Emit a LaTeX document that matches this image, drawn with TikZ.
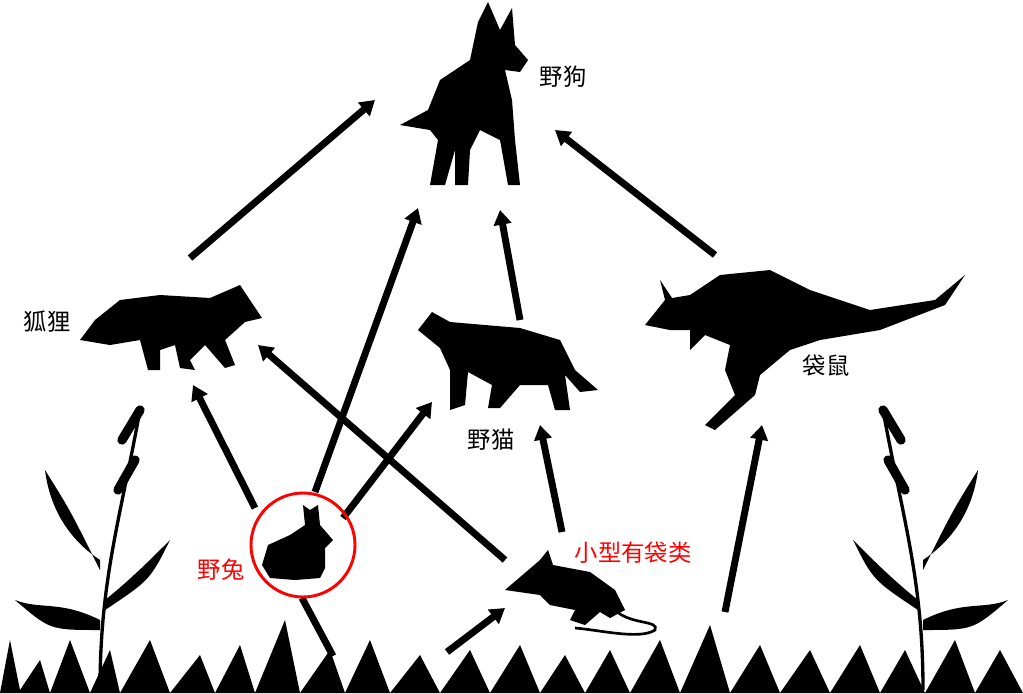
\documentclass[tikz,border=0pt]{standalone}
\usepackage{fontspec}
\newfontfamily\cjk{Noto Sans CJK SC}
\usetikzlibrary{arrows.meta}
\begin{document}
\begin{tikzpicture}[x=0.75pt,y=-0.75pt,
  feed/.style={line width=5.2pt,-{Triangle[length=11pt,width=13pt]}},
  sil/.style={fill=black},
  lab/.style={font=\cjk\fontsize{17.5}{17.5}\selectfont,text=black},
  rlab/.style={font=\cjk\fontsize{17.5}{17.5}\selectfont,text=red}]
\useasboundingbox (0,0) rectangle (1023,693);
% dog
\fill[sil] (478,22) -- (488,2) -- (500,30) -- (512,8) -- (515,45) -- (528,60) -- (520,72) -- (505,70) -- (512,100) -- (515,140) -- (520,185) -- (508,185) -- (500,140) -- (480,130) -- (470,150) -- (468,185) -- (455,185) -- (455,150) -- (445,185) -- (430,185) -- (438,140) -- (430,130) -- (400,125) -- (428,110) -- (440,80) -- (470,60) -- cycle;
% fox
\fill[sil] (80,340) -- (95,320) -- (120,300) -- (160,295) -- (210,298) -- (240,285) -- (262,318) -- (245,322) -- (225,340) -- (235,365) -- (225,368) -- (205,345) -- (190,360) -- (195,370) -- (180,368) -- (175,345) -- (160,350) -- (160,370) -- (148,370) -- (140,340) -- (110,345) -- cycle;
% cat
\fill[sil] (418,330) -- (432,312) -- (450,322) -- (520,328) -- (560,340) -- (575,370) -- (598,390) -- (580,392) -- (565,375) -- (570,410) -- (555,410) -- (548,385) -- (520,385) -- (500,408) -- (488,408) -- (492,385) -- (468,372) -- (465,405) -- (450,410) -- (450,370) -- (440,348) -- cycle;
% kangaroo
\fill[sil] (645,325) -- (665,300) -- (660,280) -- (672,298) -- (690,295) -- (720,275) -- (770,270) -- (810,290) -- (870,310) -- (935,300) -- (965,275) -- (945,305) -- (880,330) -- (820,340) -- (790,350) -- (760,375) -- (755,395) -- (715,430) -- (705,425) -- (735,395) -- (725,370) -- (730,345) -- (705,335) -- (690,350) -- (690,330) -- (670,330) -- cycle;
% rabbit
\fill[sil] (303,505) -- (310,510) -- (318,505) -- (320,525) -- (333,540) -- (325,548) -- (325,568) -- (320,578) -- (295,580) -- (270,578) -- (262,565) -- (268,545) -- (290,535) -- (305,525) -- cycle;
% marsupial
\fill[sil] (505,590) -- (540,560) -- (548,550) -- (553,565) -- (590,572) -- (615,590) -- (625,610) -- (610,618) -- (600,612) -- (585,625) -- (570,620) -- (575,610) -- (550,605) -- (540,595) -- cycle;
\draw[line width=2pt] (615,610) .. controls (630,625) and (660,620) .. (655,630) .. controls (640,640) and (600,630) .. (575,628);
% grass
\fill[sil] (0,693) -- (10,640) -- (20,690) -- (40,660) -- (50,693) -- (70,640) -- (90,693) -- (110,650) -- (120,693) -- (150,640) -- (170,693) -- (200,655) -- (215,693) -- (240,645) -- (255,693) -- (285,620) -- (300,693) -- (330,650) -- (345,693) -- (370,640) -- (390,693) -- (420,655) -- (440,693) -- (470,650) -- (490,693) -- (520,645) -- (540,693) -- (565,655) -- (585,693) -- (610,650) -- (630,693) -- (660,640) -- (680,693) -- (710,625) -- (730,693) -- (760,645) -- (780,693) -- (810,650) -- (830,693) -- (860,645) -- (880,693) -- (905,650) -- (925,693) -- (955,640) -- (975,693) -- (1000,650) -- (1023,693) -- cycle;
% reeds
\foreach \s/\x in {1/100,-1/923}{
  \draw[line width=2.5pt] (\x,690) .. controls (\x,580) and (\x+\s*20,520) .. (\x+\s*40,410);
  \draw[line width=7pt,line cap=round] (\x+\s*22,440) -- (\x+\s*40,410);
  \draw[line width=7pt,line cap=round] (\x+\s*18,490) -- (\x+\s*35,460);
  \fill[sil] (\x,620) .. controls (\x-\s*40,600) and (\x-\s*60,610) .. (\x-\s*85,600) .. controls (\x-\s*50,630) .. (\x,630) -- cycle;
  \fill[sil] (\x,560) .. controls (\x-\s*30,540) and (\x-\s*50,510) .. (\x-\s*55,470) .. controls (\x-\s*30,510) .. (\x,570) -- cycle;
  \fill[sil] (\x+\s*5,600) .. controls (\x+\s*30,580) and (\x+\s*50,560) .. (\x+\s*70,540) .. controls (\x+\s*50,580) .. (\x+\s*5,610) -- cycle;
}
% named anchor points
\coordinate (fox1) at (190,258); \coordinate (dog1) at (375,100);
\coordinate (rab1) at (315,492); \coordinate (dog2) at (418,208);
\coordinate (cat1) at (520,320); \coordinate (dog3) at (500,210);
\coordinate (kan1) at (715,255); \coordinate (dog4) at (555,130);
\coordinate (rab2) at (255,508); \coordinate (fox2) at (193,385);
\coordinate (mar1) at (505,560); \coordinate (fox3) at (258,345);
\coordinate (rab3) at (343,518); \coordinate (cat2) at (432,402);
\coordinate (mar2) at (562,532); \coordinate (cat3) at (540,425);
\coordinate (gr1) at (725,612); \coordinate (kan2) at (762,425);
\coordinate (gr2) at (333,656); \coordinate (rab4) at (302,598);
\coordinate (gr3) at (447,652); \coordinate (mar3) at (505,608);
\draw[feed] (fox1) -- (dog1);
\draw[feed] (rab1) -- (dog2);
\draw[feed] (cat1) -- (dog3);
\draw[feed] (kan1) -- (dog4);
\draw[feed] (rab2) -- (fox2);
\draw[feed] (mar1) -- (fox3);
\draw[feed] (rab3) -- (cat2);
\draw[feed] (mar2) -- (cat3);
\draw[feed] (gr1) -- (kan2);
\draw[line width=5.2pt] (gr2) -- (rab4);
\draw[feed] (gr3) -- (mar3);
% rabbit circle
\node[draw=red,line width=2.2pt,circle,minimum size=78pt] (rabc) at (303,545) {};
% labels
\node[lab] (ldog) at (563,77) {野狗};
\node[lab] (lfox) at (47,322) {狐狸};
\node[lab] (lcat) at (491,440) {野猫};
\node[lab] (lkan) at (826,366) {袋鼠};
\node[rlab] (lrab) at (221,570) {野兔};
\node[rlab] (lmar) at (633,553) {小型有袋类};
\end{tikzpicture}
\end{document}
